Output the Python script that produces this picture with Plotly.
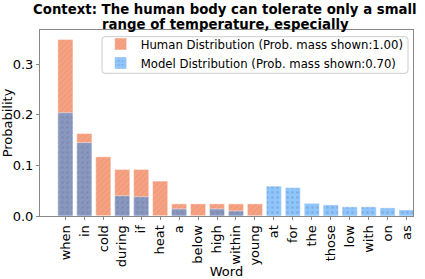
import plotly.graph_objects as go

words = ["when", "in", "cold", "during", "if", "heat", "a", "below", "high", "within",
         "young", "at", "for", "the", "those", "low", "with", "on", "as"]
human_probs = [0.349, 0.163, 0.117, 0.092, 0.092, 0.069, 0.024, 0.024, 0.024, 0.024,
               0.024, 0, 0, 0, 0, 0, 0, 0, 0]
model_probs = [0.204, 0.145, 0, 0.040, 0.038, 0, 0.014, 0, 0.014, 0.010,
               0, 0.059, 0.056, 0.025, 0.022, 0.018, 0.018, 0.016, 0.012]
yticks = [0.0, 0.1, 0.2, 0.3]
title_lines = ["Context: The human body can tolerate only a small",
               "range of temperature, especially"]

human_color = "#F6A383"
model_color = "rgba(30,144,255,0.5)"
font = "DejaVu Sans"

W, H = 425, 279
ML, MR, MT, MB = 40, 12, 30, 63
plot_w = W - ML - MR
plot_h = H - MT - MB


def px_x(p):
    return (p - ML) / plot_w


def px_y(p):
    return (H - MB - p) / plot_h


def rounded_rect(x0, y0, x1, y1, r):
    # pixel coords (y downward) -> paper path
    pts = []
    X = px_x
    Y = px_y
    pts.append(f"M {X(x0 + r)} {Y(y0)}")
    pts.append(f"L {X(x1 - r)} {Y(y0)}")
    pts.append(f"Q {X(x1)} {Y(y0)} {X(x1)} {Y(y0 + r)}")
    pts.append(f"L {X(x1)} {Y(y1 - r)}")
    pts.append(f"Q {X(x1)} {Y(y1)} {X(x1 - r)} {Y(y1)}")
    pts.append(f"L {X(x0 + r)} {Y(y1)}")
    pts.append(f"Q {X(x0)} {Y(y1)} {X(x0)} {Y(y1 - r)}")
    pts.append(f"L {X(x0)} {Y(y0 + r)}")
    pts.append(f"Q {X(x0)} {Y(y0)} {X(x0 + r)} {Y(y0)} Z")
    return " ".join(pts)


fig = go.Figure()
fig.add_trace(go.Bar(
    x=words, y=human_probs, width=0.8,
    name="Human Distribution (Prob. mass shown:1.00)",
    marker=dict(color=human_color,
                line=dict(color="rgba(255,255,255,0.6)", width=0.8),
                pattern=dict(shape="/", fgcolor="#E58C6C", size=4, solidity=0.3)),
))
fig.add_trace(go.Bar(
    x=words, y=model_probs, width=0.8,
    name="Model Distribution (Prob. mass shown:0.70)",
    marker=dict(color=model_color,
                line=dict(color="rgba(255,255,255,0.6)", width=0.8),
                pattern=dict(shape=".", fgcolor="rgba(110,110,130,0.55)", size=5, solidity=0.25)),
))

annos = []
for line, py in zip(title_lines, [9, 24]):
    annos.append(dict(text="<b>" + line + "</b>", xref="paper", yref="paper",
                      x=0.497, y=px_y(py), xanchor="center", yanchor="middle",
                      showarrow=False, font=dict(family=font, size=13.3, color="black")))

legend_box = dict(type="path", xref="paper", yref="paper",
                  path=rounded_rect(102, 36.7, 408, 73.3, 3),
                  fillcolor="rgba(255,255,255,0.8)", line=dict(color="#cccccc", width=1),
                  layer="above")

fig.update_layout(
    width=W, height=H,
    barmode="overlay",
    margin=dict(l=ML, r=MR, t=MT, b=MB, autoexpand=False),
    plot_bgcolor="white", paper_bgcolor="white",
    font=dict(family=font, size=13, color="black"),
    annotations=annos,
    shapes=[legend_box],
    legend=dict(x=0.1626, y=1.0027, xanchor="left", yanchor="top",
                bgcolor="rgba(0,0,0,0)", borderwidth=0,
                font=dict(family=font, size=11.7), tracegroupgap=2),
    showlegend=True,
)
fig.update_xaxes(
    range=[-1.34, 19.34 - 1], tickangle=-90, tickfont=dict(size=13),
    tickmode="array", tickvals=words, ticktext=words, automargin=False,
    showline=True, linecolor="#888888", mirror=True, linewidth=1,
    ticks="outside", ticklen=3, tickcolor="#888888",
    title=dict(text="Word", font=dict(size=13)),
)
fig.update_yaxes(
    range=[0, 0.3676], tickvals=yticks, tickformat=".1f", tickfont=dict(size=13),
    automargin=False,
    showline=True, linecolor="#888888", mirror=True, linewidth=1, showgrid=False, zeroline=False,
    ticks="outside", ticklen=3, tickcolor="#888888",
    title=dict(text="Probability", font=dict(size=13)),
)
fig.write_html("out.html", config={"displayModeBar": False})

with open("out.html", "r", encoding="utf-8") as f:
    html = f.read()
html = html.replace("<head>", "<head><style>html,body{margin:0;padding:0;overflow:hidden;}</style>", 1)
with open("out.html", "w", encoding="utf-8") as f:
    f.write(html)
